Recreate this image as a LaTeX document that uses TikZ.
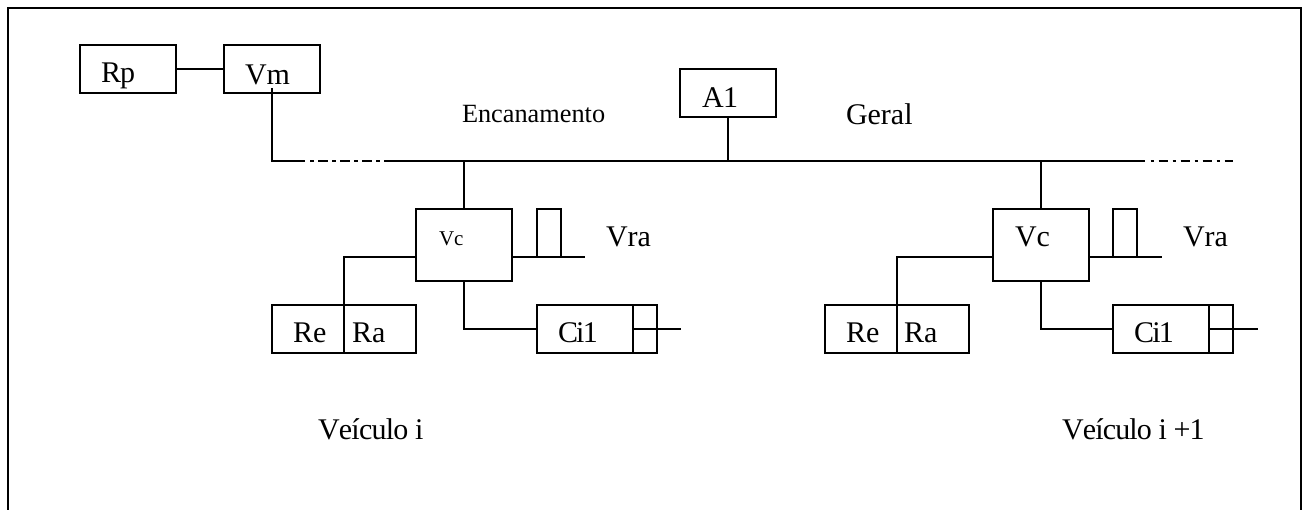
\documentclass[tikz,border=0pt]{standalone}
\usepackage{fontspec}
\setmainfont[Kerning=Off]{Liberation Serif}
\tikzset{
  boxn/.style={draw=black,line width=1.6pt,minimum width=#1,minimum height=48pt,inner sep=0pt,outer sep=0pt,anchor=north west},
  boxn/.default=96pt,
  wire/.style={line width=1.6pt,line cap=butt,line join=miter},
  thinwire/.style={line width=1.1pt},
  dashdot/.style={line width=1.6pt,dash pattern=on 3.5pt off 4.5pt on 9.5pt off 4.5pt},
  lab/.style={font=\fontsize{30}{32}\selectfont,anchor=base west,inner sep=0pt,outer sep=0pt},
  labn/.style={font=\fontsize{30}{32}\selectfont\addfontfeature{LetterSpace=#1},anchor=base west,inner sep=0pt,outer sep=0pt},
  labs/.style={font=\fontsize{26.3}{30}\selectfont,anchor=base west,inner sep=0pt,outer sep=0pt},
  labt/.style={font=\fontsize{21}{24}\selectfont,anchor=base west,inner sep=0pt,outer sep=0pt}
}
\begin{document}
\begin{tikzpicture}[x=1pt,y=-1pt]
\useasboundingbox (0,0) rectangle (1303,510);
\draw[line width=1.8pt] (8,510) -- (8,8) -- (1301,8) -- (1301,510);
% boxes
\node[boxn] (rp) at (80,45) {};
\node[boxn] (vm) at (224,45) {};
\node[boxn] (a1) at (680,69) {};
\node[boxn,minimum height=72pt] (vc1) at (416,209) {};
\node[boxn=24pt] (vr1) at (537,209) {};
\node[boxn=72pt] (re1) at (272,305) {};
\node[boxn=72pt] (ra1) at (344,305) {};
\node[boxn] (ci1) at (537,305) {};
\node[boxn=24pt] (cp1) at (633,305) {};
\node[boxn,minimum height=72pt] (vc2) at (993,209) {};
\node[boxn=24pt] (vr2) at (1113,209) {};
\node[boxn=72pt] (re2) at (825,305) {};
\node[boxn=72pt] (ra2) at (897,305) {};
\node[boxn] (ci2) at (1113,305) {};
\node[boxn=24pt] (cp2) at (1209,305) {};
% free points
\coordinate (vmtop) at (272,88);
\coordinate (busa) at (272,161);
\coordinate (busb) at (305,161);
\coordinate (busb2) at (310,161);
\coordinate (busc) at (384,161);
\coordinate (busd) at (441,161);
\coordinate (buse) at (706,161);
\coordinate (busf) at (1145,161);
\coordinate (busf2) at (1150.5,161);
\coordinate (busg) at (1233,161);
\coordinate (vc1r) at (512,257);
\coordinate (vr1e) at (585,257);
\coordinate (vc1l) at (416,257);
\coordinate (vc2r) at (1089,257);
\coordinate (vr2e) at (1162,257);
\coordinate (vc2l) at (993,257);
\coordinate (rod1) at (681,329);
\coordinate (rod2) at (1258,329);
% connectors
\draw[wire] (rp.east) -- (vm.west);
\draw[wire] (vmtop) -- (busa) -- (busb);
\draw[dashdot] (busb2) -- (busc);
\draw[wire] (busc) -- (busd);
\draw[thinwire] (busd) -- (buse);
\draw[wire] (buse) -- (busf);
\draw[dashdot] (busf2) -- (busg);
\draw[wire] (a1.south) -- (a1.south |- busa);
\draw[wire] (vc1.north) -- (vc1.north |- busa);
\draw[wire] (vc2.north) -- (vc2.north |- busa);
\draw[wire] (vc1r) -- (vr1e);
\draw[wire] (vc2r) -- (vr2e);
\draw[wire] (vc1l) -- (ra1.north west |- vc1l) -- (ra1.north west);
\draw[wire] (vc2l) -- (ra2.north west |- vc2l) -- (ra2.north west);
\draw[wire] (vc1.south) |- (ci1.west);
\draw[wire] (vc2.south) |- (ci2.west);
\draw[wire] (cp1.west) -- (rod1);
\draw[wire] (cp2.west) -- (rod2);
% labels
\node[labn=-3] (trp) at (101,83) {Rp};
\node[lab] (tvm) at (245,85) {Vm};
\node[labs] (tenc) at (462,123) {Encanamento};
\node[labn=-2] (ta1) at (702,108) {A1};
\node[lab] (tger) at (846,124.5) {Geral};
\node[labt] (tvc1) at (439,245.5) {Vc};
\node[lab] (tvra1) at (606,247) {Vra};
\node[lab] (tvc2) at (1015,247) {Vc};
\node[lab] (tvra2) at (1183,247) {Vra};
\node[lab] (tre1) at (293,343) {Re};
\node[lab] (tra1) at (352,343) {Ra};
\node[labn=-6] (tci1) at (558,343) {Ci1};
\node[lab] (tre2) at (846,343) {Re};
\node[lab] (tra2) at (904,343) {Ra};
\node[labn=-6] (tci2) at (1134,343) {Ci1};
\node[labn=-2.5] (tvei1) at (318,439) {Veículo i};
\node[labn=-2.8] (tvei2) at (1062,439) {Veículo i +1};
\end{tikzpicture}
\end{document}
